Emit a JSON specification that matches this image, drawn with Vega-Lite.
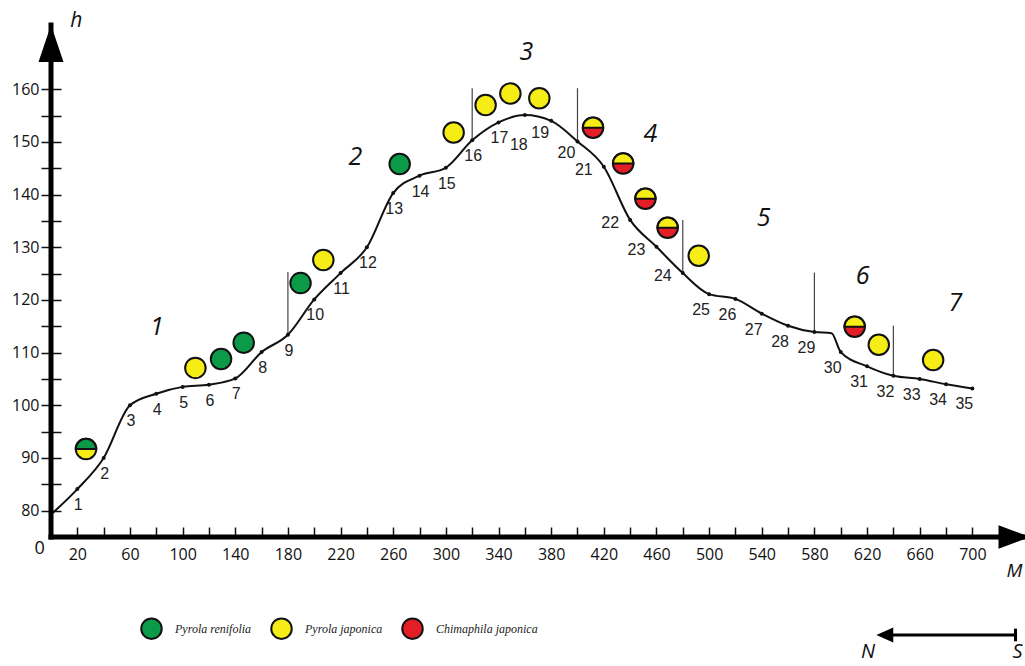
{
  "$schema": "https://vega.github.io/schema/vega-lite/v6.json",
  "autosize": "none",
  "width": 974,
  "height": 512,
  "padding": {"left": 51, "top": 25, "right": 0, "bottom": 129},
  "background": "white",
  "config": {"view": {"stroke": null}},
  "datasets": {
    "profile": [
      {"x": 1, "h": 79.5},
      {"n": 1, "x": 20, "h": 84.1}, {"n": 2, "x": 40, "h": 90}, {"n": 3, "x": 60, "h": 100},
      {"n": 4, "x": 80, "h": 102.2}, {"n": 5, "x": 100, "h": 103.5}, {"n": 6, "x": 120, "h": 103.9},
      {"n": 7, "x": 140, "h": 105.1}, {"n": 8, "x": 160, "h": 110.1}, {"n": 9, "x": 180, "h": 113.4},
      {"n": 10, "x": 200, "h": 120.1}, {"n": 11, "x": 220, "h": 125.1}, {"n": 12, "x": 240, "h": 130},
      {"n": 13, "x": 260, "h": 140.3}, {"n": 14, "x": 280, "h": 143.6}, {"n": 15, "x": 300, "h": 145.1},
      {"n": 16, "x": 320, "h": 150.3}, {"n": 17, "x": 340, "h": 153.7}, {"n": 18, "x": 360, "h": 155.1},
      {"n": 19, "x": 380, "h": 154}, {"n": 20, "x": 400, "h": 150.1}, {"n": 21, "x": 420, "h": 145.3},
      {"n": 22, "x": 440, "h": 135.2}, {"n": 23, "x": 460, "h": 130.1}, {"n": 24, "x": 480, "h": 125.1},
      {"n": 25, "x": 500, "h": 121.1}, {"n": 26, "x": 520, "h": 120.2}, {"n": 27, "x": 540, "h": 117.4},
      {"n": 28, "x": 560, "h": 115.1}, {"n": 29, "x": 580, "h": 113.9}, {"x": 593, "h": 113.7},
      {"n": 30, "x": 600, "h": 110.1}, {"n": 31, "x": 620, "h": 107.4}, {"n": 32, "x": 640, "h": 105.6},
      {"n": 33, "x": 660, "h": 105}, {"n": 34, "x": 680, "h": 104}, {"n": 35, "x": 700, "h": 103.2}
    ],
    "circles": [
      {"x": 26.6, "h": 91.7, "top": "Pyrola renifolia", "bottom": "Pyrola japonica"},
      {"x": 109.7, "h": 107.1, "top": "Pyrola japonica", "bottom": "Pyrola japonica"},
      {"x": 129.2, "h": 108.8, "top": "Pyrola renifolia", "bottom": "Pyrola renifolia"},
      {"x": 146.4, "h": 111.9, "top": "Pyrola renifolia", "bottom": "Pyrola renifolia"},
      {"x": 189.6, "h": 123.2, "top": "Pyrola renifolia", "bottom": "Pyrola renifolia"},
      {"x": 206.9, "h": 127.6, "top": "Pyrola japonica", "bottom": "Pyrola japonica"},
      {"x": 264.9, "h": 145.8, "top": "Pyrola renifolia", "bottom": "Pyrola renifolia"},
      {"x": 305.9, "h": 151.8, "top": "Pyrola japonica", "bottom": "Pyrola japonica"},
      {"x": 330.2, "h": 157, "top": "Pyrola japonica", "bottom": "Pyrola japonica"},
      {"x": 349, "h": 159.2, "top": "Pyrola japonica", "bottom": "Pyrola japonica"},
      {"x": 371, "h": 158.3, "top": "Pyrola japonica", "bottom": "Pyrola japonica"},
      {"x": 411.8, "h": 152.7, "top": "Pyrola japonica", "bottom": "Chimaphila japonica"},
      {"x": 434.7, "h": 145.9, "top": "Pyrola japonica", "bottom": "Chimaphila japonica"},
      {"x": 451.6, "h": 139.2, "top": "Pyrola japonica", "bottom": "Chimaphila japonica"},
      {"x": 468.5, "h": 133.7, "top": "Pyrola japonica", "bottom": "Chimaphila japonica"},
      {"x": 492.1, "h": 128.4, "top": "Pyrola japonica", "bottom": "Pyrola japonica"},
      {"x": 610.6, "h": 114.9, "top": "Pyrola japonica", "bottom": "Chimaphila japonica"},
      {"x": 628.9, "h": 111.5, "top": "Pyrola japonica", "bottom": "Pyrola japonica"},
      {"x": 670.2, "h": 108.6, "top": "Pyrola japonica", "bottom": "Pyrola japonica"}
    ],
    "bounds": [
      {"x": 180, "h": 113.4, "h2": 125.3}, {"x": 320, "h": 150.3, "h2": 160.2},
      {"x": 400, "h": 150.1, "h2": 160.2}, {"x": 480, "h": 125.1, "h2": 135.2},
      {"x": 580, "h": 113.9, "h2": 125.2}, {"x": 640, "h": 105.6, "h2": 115.1}
    ],
    "regions": [
      {"label": "1", "x": 80.5, "h": 114.9}, {"label": "2", "x": 231.2, "h": 147.1},
      {"label": "3", "x": 361.2, "h": 167.1}, {"label": "4", "x": 455.4, "h": 151.6},
      {"label": "5", "x": 541.5, "h": 135.5}, {"label": "6", "x": 616.7, "h": 124.6},
      {"label": "7", "x": 687.2, "h": 119.4}
    ],
    "axislines": [
      {"x": 0, "x2": 0, "h": 75, "h2": 172.2},
      {"x": 0, "x2": 740, "h": 75, "h2": 75}
    ]
  },
  "encoding": {
    "x": {"field": "x", "type": "quantitative",
      "scale": {"domain": [0, 740], "nice": false, "zero": false},
      "axis": {"title": null, "offset": -10, "domain": false, "grid": false, "tickSize": 10, "tickWidth": 1.5, "tickColor": "#111",
        "values": [20,40,60,80,100,120,140,160,180,200,220,240,260,280,300,320,340,360,380,400,420,440,460,480,500,520,540,560,580,600,620,640,660,680,700],
        "labelExpr": "(datum.value - 20) % 40 == 0 ? datum.label : ''",
        "labelFont": "Open Sans", "labelFontSize": 16, "labelColor": "#111", "labelPadding": 9, "labelFlush": false}},
    "y": {"field": "h", "type": "quantitative",
      "scale": {"domain": [75, 172.2], "nice": false, "zero": false},
      "axis": {"title": null, "offset": -10, "domain": false, "grid": false, "tickSize": 20, "tickWidth": 1.5, "tickColor": "#111",
        "values": [80,85,90,95,100,105,110,115,120,125,130,135,140,145,150,155,160],
        "labelExpr": "datum.value % 10 == 0 ? datum.label : ''",
        "labelFont": "Open Sans", "labelFontSize": 16, "labelColor": "#111", "labelPadding": 2}}
  },
  "layer": [
    {"data": {"name": "bounds"}, "mark": {"type": "rule", "color": "#444", "strokeWidth": 1.2},
      "encoding": {"y2": {"field": "h2"}}},
    {"data": {"name": "profile"}, "mark": {"type": "line", "interpolate": "monotone", "color": "#111", "strokeWidth": 2}, "encoding": {}},
    {"data": {"name": "profile"}, "transform": [{"filter": "isValid(datum.n)"}],
      "mark": {"type": "point", "filled": true, "size": 16, "color": "#111", "opacity": 1}, "encoding": {}},
    {"data": {"name": "profile"}, "transform": [{"filter": "datum.n >= 1 && datum.n <= 17"}],
      "mark": {"type": "text", "dx": 1, "dy": 16, "font": "Liberation Sans", "fontSize": 16, "color": "#222"},
      "encoding": {"text": {"field": "n"}}},
    {"data": {"name": "profile"}, "transform": [{"filter": "datum.n == 18"}],
      "mark": {"type": "text", "dx": -6, "dy": 30, "font": "Liberation Sans", "fontSize": 16, "color": "#222"},
      "encoding": {"text": {"field": "n"}}},
    {"data": {"name": "profile"}, "transform": [{"filter": "datum.n == 19 || datum.n == 20"}],
      "mark": {"type": "text", "dx": -11, "dy": 12, "font": "Liberation Sans", "fontSize": 16, "color": "#222"},
      "encoding": {"text": {"field": "n"}}},
    {"data": {"name": "profile"}, "transform": [{"filter": "datum.n >= 21 && datum.n <= 24"}],
      "mark": {"type": "text", "dx": -20, "dy": 3, "font": "Liberation Sans", "fontSize": 16, "color": "#222"},
      "encoding": {"text": {"field": "n"}}},
    {"data": {"name": "profile"}, "transform": [{"filter": "datum.n >= 25"}],
      "mark": {"type": "text", "dx": -8, "dy": 16, "font": "Liberation Sans", "fontSize": 16, "color": "#222"},
      "encoding": {"text": {"field": "n"}}},
    {"data": {"name": "circles"},
      "mark": {"type": "point", "shape": "circle", "filled": true, "size": 420, "stroke": "#111", "strokeWidth": 2, "opacity": 1, "fillOpacity": 1},
      "encoding": {"fill": {"field": "bottom", "type": "nominal",
        "scale": {"domain": ["Pyrola renifolia", "Pyrola japonica", "Chimaphila japonica"], "range": ["#0b9a48", "#f6ec16", "#e41e26"]},
        "legend": {"title": null, "orient": "none", "legendX": 89, "legendY": 592, "direction": "horizontal",
          "symbolType": "circle", "symbolSize": 420, "symbolStrokeColor": "#111", "symbolStrokeWidth": 2, "symbolOpacity": 1,
          "labelFont": "Liberation Serif", "labelFontStyle": "italic", "labelFontSize": 12, "labelColor": "#222",
          "labelOffset": 12, "columnPadding": 15}}}},
    {"data": {"name": "circles"}, "transform": [{"filter": "datum.top != datum.bottom"}],
      "mark": {"type": "point", "shape": "M-1,0A1,1,0,0,1,1,0Z", "filled": true, "size": 420, "stroke": "#111", "strokeWidth": 2, "opacity": 1, "fillOpacity": 1},
      "encoding": {"fill": {"field": "top", "type": "nominal", "legend": null}}},
    {"data": {"name": "regions"},
      "mark": {"type": "text", "font": "Open Sans", "fontStyle": "italic", "fontSize": 25, "color": "#111"},
      "encoding": {"text": {"field": "label"}}},
    {"data": {"name": "axislines"},
      "mark": {"type": "rule", "color": "#000", "strokeWidth": 5, "strokeCap": "square"},
      "encoding": {"x2": {"field": "x2"}, "y2": {"field": "h2"}}},
    {"data": {"values": [{"x": 0, "h": 168.4}]},
      "mark": {"type": "point", "shape": "M0,-1L0.625,0.85L-0.625,0.85Z", "size": 1600, "filled": true, "color": "#000", "opacity": 1, "strokeWidth": 0},
      "encoding": {}},
    {"data": {"values": [{"x": 729, "h": 75}]},
      "mark": {"type": "point", "shape": "M1,0L-0.6,-0.585L-0.6,0.585Z", "size": 1600, "filled": true, "color": "#000", "opacity": 1, "strokeWidth": 0},
      "encoding": {}},
    {"data": {"values": [{"x": 636, "x2": 732.8, "h": 56.4, "h2": 56.4}, {"x": 732.8, "x2": 732.8, "h": 55.2, "h2": 57.6}]},
      "mark": {"type": "rule", "color": "#000", "strokeWidth": 3},
      "encoding": {"x2": {"field": "x2"}, "y2": {"field": "h2"}}},
    {"data": {"values": [{"x": 633.5, "h": 56.4}]},
      "mark": {"type": "point", "shape": "M-0.84,0L0.84,-0.75L0.84,0.75Z", "size": 400, "filled": true, "color": "#000", "opacity": 1, "strokeWidth": 0},
      "encoding": {}},
    {"data": {"values": [{"t": "N", "x": 620.8, "h": 53.2}]},
      "mark": {"type": "text", "font": "Open Sans", "fontStyle": "italic", "fontSize": 20, "color": "#111"},
      "encoding": {"text": {"field": "t"}}},
    {"data": {"values": [{"t": "S", "x": 730.5, "h": 53.2}]},
      "mark": {"type": "text", "align": "left", "font": "Open Sans", "fontStyle": "italic", "fontSize": 20, "color": "#111"},
      "encoding": {"text": {"field": "t"}}},
    {"data": {"values": [{"t": "M", "x": 726, "h": 68.5}]},
      "mark": {"type": "text", "align": "left", "font": "Open Sans", "fontStyle": "italic", "fontSize": 19, "color": "#111"},
      "encoding": {"text": {"field": "t"}}},
    {"data": {"values": [{"t": "h", "x": 14.7, "h": 173.0}]},
      "mark": {"type": "text", "align": "left", "font": "Open Sans", "fontStyle": "italic", "fontSize": 21, "color": "#111"},
      "encoding": {"text": {"field": "t"}}},
    {"data": {"values": [{"t": "0", "x": -8.7, "h": 72.7}]},
      "mark": {"type": "text", "font": "Open Sans", "fontSize": 18, "color": "#111"},
      "encoding": {"text": {"field": "t"}}}
  ]
}
